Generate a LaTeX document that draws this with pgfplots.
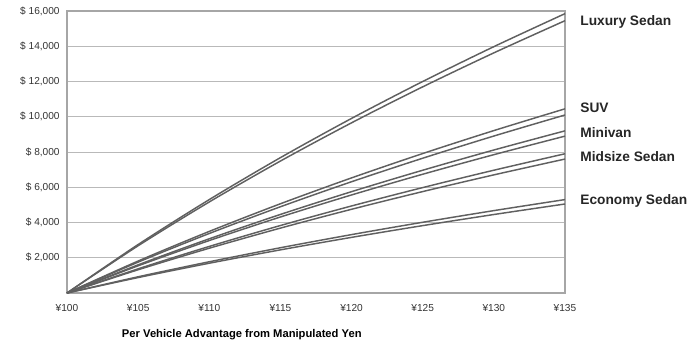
\documentclass[border=0pt]{standalone}
\usepackage{pgfplots}
\pgfplotsset{compat=1.18}
\usepackage{fontspec}
\setmainfont{Liberation Sans}
\begin{document}
\begin{tikzpicture}
\begin{axis}[
  name=ax,
  scale only axis,
  width=373.5pt, height=211.5pt,
  xmin=100, xmax=135, ymin=0, ymax=16000,
  clip=false,
  axis line style={gray!70, line width=0.8pt},
  xtick={100,105,...,135},
  xticklabels={¥100,¥105,¥110,¥115,¥120,¥125,¥130,¥135},
  ytick={2000,4000,...,16000},
  yticklabels={{\$ 2,000},{\$ 4,000},{\$ 6,000},{\$ 8,000},{\$ 10,000},{\$ 12,000},{\$ 14,000},{\$ 16,000}},
  scaled y ticks=false,
  major tick length=0pt,
  ymajorgrids,
  grid style={gray!55, line width=0.7pt},
  tick label style={font=\fontsize{7.6}{8}\selectfont, text=black!80},
  yticklabel style={xshift=-2pt},
  xticklabel style={yshift=-5pt},
  /pgf/number format/assume math mode=true,
  xlabel={Per Vehicle Advantage from Manipulated Yen},
  xlabel style={font=\bfseries\fontsize{8.4}{10}\selectfont, at={(axis description cs:0.351,0)}, anchor=north, yshift=-24pt},
  cycle list={{gray!75!black}},
  every axis plot/.append style={line width=1.1pt, smooth},
  no markers,
]
% Luxury Sedan
\addplot coordinates {(100,0) (105,2750) (110,5300) (115,7679) (120,9906) (125,12000) (130,13977) (135,15850)};
\addplot coordinates {(100,0) (105,2681) (110,5166) (115,7486) (120,9656) (125,11697) (130,13624) (135,15450)};
% SUV
\addplot coordinates {(100,0) (105,1813) (110,3494) (115,5063) (120,6531) (125,7912) (130,9215) (135,10450)};
\addplot coordinates {(100,0) (105,1752) (110,3377) (115,4893) (120,6313) (125,7647) (130,8906) (135,10100)};
% Minivan
\addplot coordinates {(100,0) (105,1596) (110,3076) (115,4457) (120,5750) (125,6965) (130,8113) (135,9200)};
\addplot coordinates {(100,0) (105,1544) (110,2976) (115,4312) (120,5563) (125,6738) (130,7848) (135,8900)};
% Midsize Sedan
\addplot coordinates {(100,0) (105,1371) (110,2642) (115,3828) (120,4938) (125,5981) (130,6966) (135,7900)};
\addplot coordinates {(100,0) (105,1319) (110,2541) (115,3682) (120,4750) (125,5754) (130,6702) (135,7600)};
% Economy Sedan
\addplot coordinates {(100,0) (105,920) (110,1772) (115,2568) (120,3313) (125,4013) (130,4674) (135,5300)};
\addplot coordinates {(100,0) (105,876) (110,1689) (115,2447) (120,3156) (125,3823) (130,4453) (135,5050)};
\begin{scope}[every node/.style={anchor=west, font=\bfseries\fontsize{10.3}{12}\selectfont, text=black!85, xshift=8pt}]
\node at (axis cs:135,15376) {Luxury Sedan};
\node at (axis cs:135,10496) {SUV};
\node at (axis cs:135,9078) {Minivan};
\node at (axis cs:135,7716) {Midsize Sedan};
\node at (axis cs:135,5220) {Economy Sedan};
\end{scope}
\end{axis}
\pgfresetboundingbox
\path ([shift={(-50.25pt,-39pt)}]ax.south west) rectangle ([shift={(96pt,8.25pt)}]ax.north east);
\end{tikzpicture}
\end{document}
